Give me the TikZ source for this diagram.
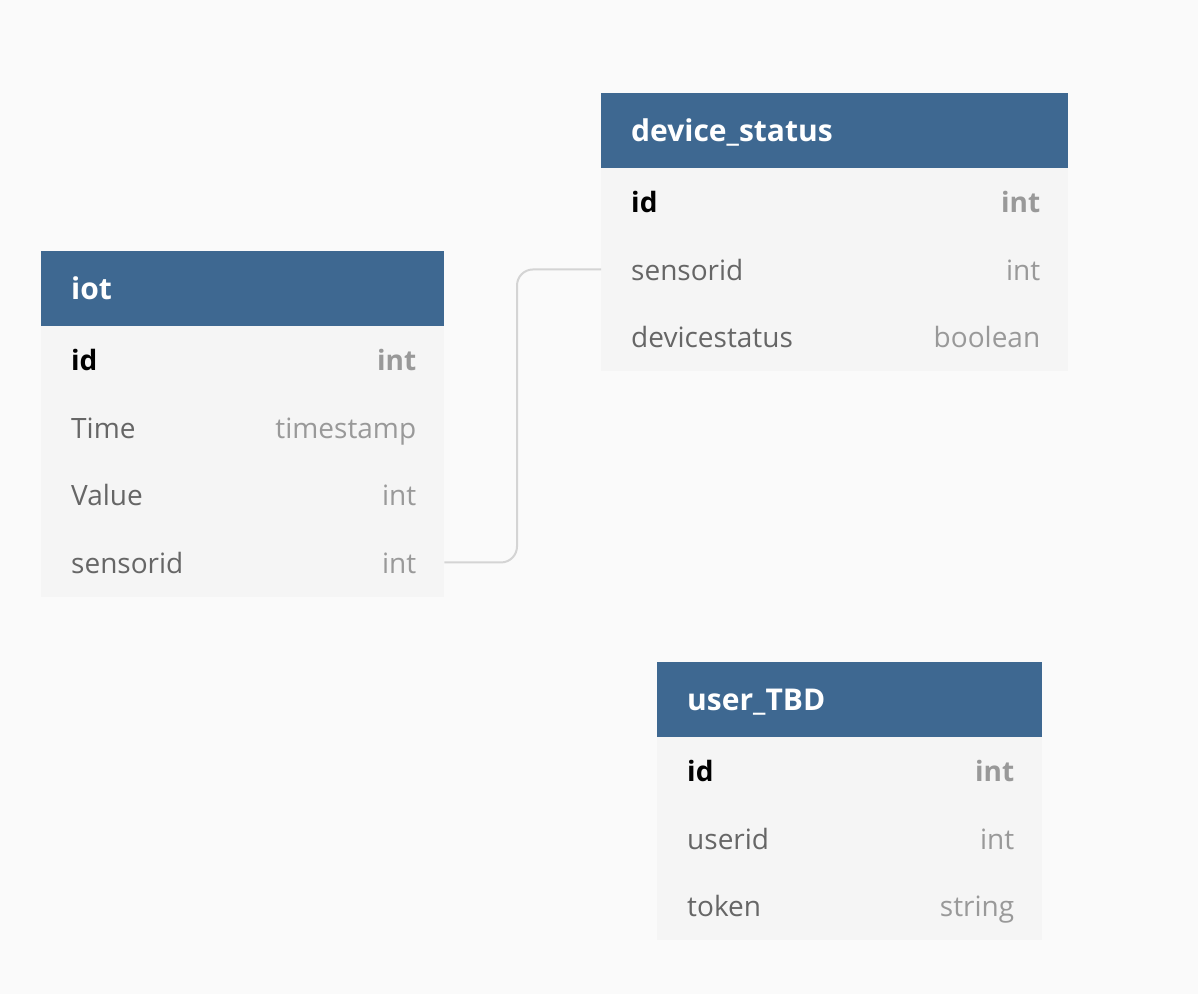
\documentclass[tikz,border=0pt]{standalone}
\usepackage{fontspec}
\setmainfont{Open Sans}
\usetikzlibrary{calc}
\definecolor{bg}{HTML}{FAFAFA}
\definecolor{hdr}{HTML}{3E6891}
\definecolor{bodyc}{HTML}{F5F5F5}
\definecolor{fname}{HTML}{666666}
\definecolor{ftype}{HTML}{999999}
\definecolor{connc}{HTML}{D4D4D4}
\newcommand\ERrow[7]{%
  \node[rowbox, minimum width=#4] (#1) at (#2,#3) {};
  \node[#7fld] (#1-n) at ([xshift=30pt,yshift=-11pt]#1.west) {#5};
  \node[#7typ] (#1-t) at ([xshift=-28pt,yshift=-11pt]#1.east) {#6};}
\begin{document}
\begin{tikzpicture}[x=1pt,y=-1pt,
  hdrbox/.style={fill=hdr, anchor=north west, inner sep=0pt, minimum height=75pt},
  bodybox/.style={fill=bodyc, anchor=north west, inner sep=0pt},
  rowbox/.style={anchor=north west, inner sep=0pt, minimum height=67.5pt},
  ttl/.style={anchor=base west, text=white, inner sep=0pt, font=\fontsize{30}{34}\selectfont\bfseries},
  fld/.style={anchor=base west, text=fname, inner sep=0pt, font=\fontsize{28}{32}\selectfont},
  typ/.style={anchor=base east, text=ftype, inner sep=0pt, font=\fontsize{28}{32}\selectfont},
  pkfld/.style={anchor=base west, text=black, inner sep=0pt, font=\fontsize{28}{32}\selectfont\bfseries},
  pktyp/.style={anchor=base east, text=ftype, inner sep=0pt, font=\fontsize{28}{32}\selectfont\bfseries},
  link/.style={draw=connc, line width=2pt, rounded corners=16pt}]
\fill[bg] (0,0) rectangle (1198,994);
\useasboundingbox (0,0) rectangle (1198,994);

% iot
\node[bodybox, minimum width=403pt, minimum height=271pt] (iot-b) at (41,326) {};
\node[hdrbox, minimum width=403pt] (iot) at (41,251) {};
\node[ttl] (iot-title) at ([xshift=30pt,yshift=-11pt]iot.west) {iot};
\ERrow{iot-id}{41}{326}{403pt}{id}{int}{pk}
\ERrow{iot-time}{41}{393.5}{403pt}{Time}{timestamp}{}
\ERrow{iot-value}{41}{461}{403pt}{Value}{int}{}
\ERrow{iot-sensorid}{41}{528.5}{403pt}{sensorid}{int}{}

% device_status
\node[bodybox, minimum width=467pt, minimum height=203pt] (ds-b) at (601,168) {};
\node[hdrbox, minimum width=467pt] (ds) at (601,93) {};
\node[ttl] (ds-title) at ([xshift=30pt,yshift=-11pt]ds.west) {device\_status};
\ERrow{ds-id}{601}{168}{467pt}{id}{int}{pk}
\ERrow{ds-sensorid}{601}{235.5}{467pt}{sensorid}{int}{}
\ERrow{ds-status}{601}{303}{467pt}{devicestatus}{boolean}{}

% user_TBD
\node[bodybox, minimum width=385pt, minimum height=203pt] (ut-b) at (657,737) {};
\node[hdrbox, minimum width=385pt] (ut) at (657,662) {};
\node[ttl] (ut-title) at ([xshift=30pt,yshift=-11pt]ut.west) {user\_TBD};
\ERrow{ut-id}{657}{737}{385pt}{id}{int}{pk}
\ERrow{ut-userid}{657}{804.5}{385pt}{userid}{int}{}
\ERrow{ut-token}{657}{872}{385pt}{token}{string}{}

% connector
\coordinate (bend) at (517,0);
\draw[link] (iot-sensorid.east) -| (bend |- ds-sensorid.west) -- (ds-sensorid.west);
\end{tikzpicture}
\end{document}
